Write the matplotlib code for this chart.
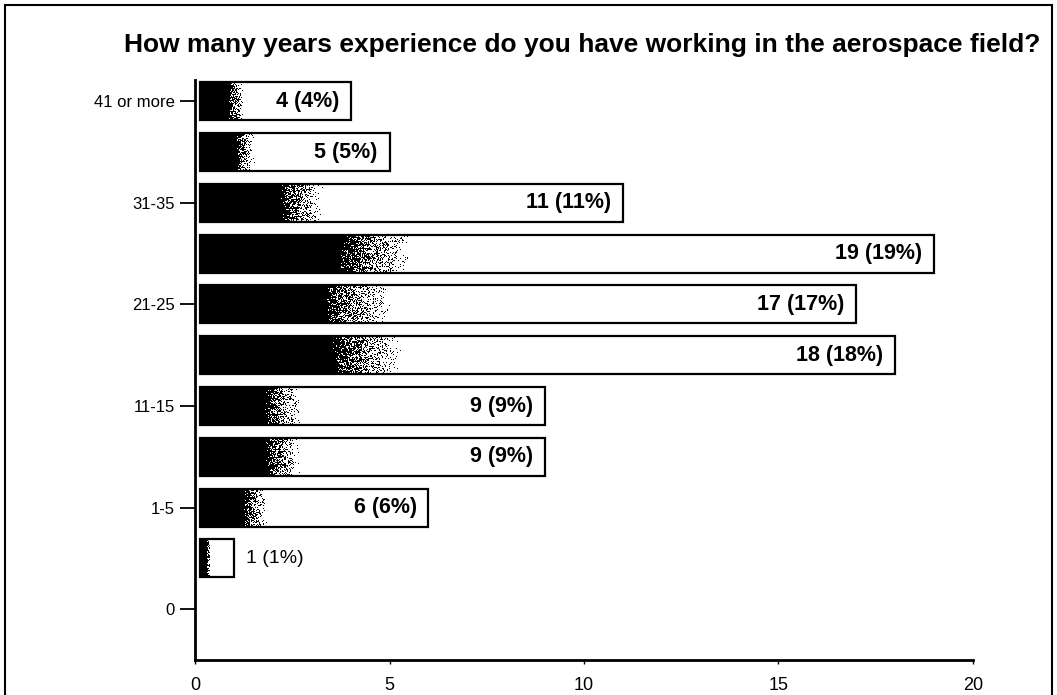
import numpy as np
import matplotlib
matplotlib.use("Agg")
import matplotlib.pyplot as plt
from matplotlib.patches import Rectangle

# survey answers, bottom row first
categories = ["0", "Less than 1", "1-5", "6-10", "11-15", "16-20",
              "21-25", "26-30", "31-35", "36-40", "41 or more"]
counts = [0, 1, 6, 9, 9, 18, 17, 19, 11, 5, 4]
percents = [0, 1, 6, 9, 9, 18, 17, 19, 11, 5, 4]
shown_ticks = ["0", "1-5", "11-15", "21-25", "31-35", "41 or more"]
x_ticks = [0, 5, 10, 15, 20]

title = "How many years experience do you have working in the aerospace field?"


def shaded_bar(ax, y, width, height, rng):
    """Black-to-white stippled fill with a black outline."""
    cols = max(int(width * 40), 2)
    rows = 40
    t = (np.arange(cols) + 0.5) / cols
    level = np.clip((t - 0.19) / 0.10, 0, 1) ** 0.8
    img = (rng.random((rows, cols)) < level[None, :]).astype(float)
    ax.imshow(img, cmap="gray", vmin=0, vmax=1, interpolation="nearest",
              extent=[0.12, width, y - height / 2, y + height / 2],
              aspect="auto", zorder=2)
    ax.add_patch(Rectangle((0.12, y - height / 2), width - 0.12, height,
                           fill=False, edgecolor="black", linewidth=1.6,
                           zorder=3))


def main():
    plt.rcParams["font.family"] = ["Liberation Sans", "DejaVu Sans"]
    fig = plt.figure(figsize=(10.57, 6.95), dpi=100)
    ax = fig.add_axes([0.1845, 0.0504, 0.736, 0.8346])

    rng = np.random.default_rng(3)
    ypos = np.arange(len(categories))
    bar_h = 0.75
    for y, c, p in zip(ypos, counts, percents):
        if c == 0:
            continue
        shaded_bar(ax, y, c, bar_h, rng)
        if c > 2:
            ax.text(c - 0.3, y, f"{c} ({p}%)", ha="right", va="center",
                    fontsize=15.5, fontweight="bold", zorder=4)
        else:
            ax.text(c + 0.3, y, f"{c} ({p}%)", ha="left", va="center",
                    fontsize=14, zorder=4)

    ax.set_xlim(0, 20)
    ax.set_ylim(-1, 10.42)
    ax.set_xticks(x_ticks)
    ax.set_xticklabels([str(v) for v in x_ticks], fontsize=13)
    tick_pos = [categories.index(lbl) for lbl in shown_ticks]
    ax.set_yticks(tick_pos)
    ax.set_yticklabels(shown_ticks, fontsize=12)
    ax.tick_params(axis="y", length=11, width=1.3, pad=3.5)
    ax.tick_params(axis="x", length=3, width=1, pad=9)
    for side in ("top", "right"):
        ax.spines[side].set_visible(False)
    for side in ("left", "bottom"):
        ax.spines[side].set_linewidth(2)

    fig.text(0.551, 0.935, title, ha="center", va="center",
             fontsize=19, fontweight="bold")

    # outer frame around the chart
    fig.add_artist(Rectangle((0.005, -0.05), 0.99, 1.043,
                             transform=fig.transFigure, fill=False,
                             edgecolor="black", linewidth=1.5))

    fig.savefig("out.png", dpi=100)


if __name__ == "__main__":
    main()
